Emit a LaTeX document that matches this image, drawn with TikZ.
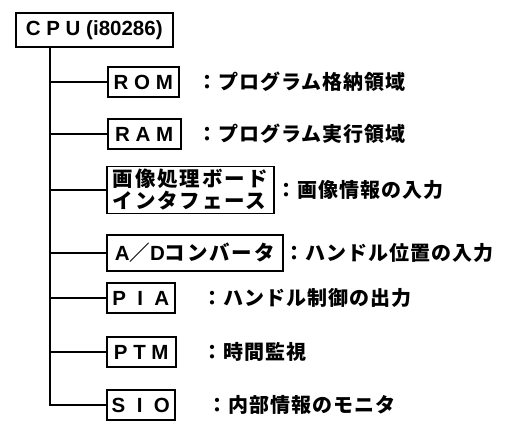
\documentclass[tikz,border=0pt]{standalone}
\usepackage{fontspec}
\setmainfont{Liberation Sans}
\newfontfamily\jp{Noto Sans CJK JP}[LetterSpace=9]
\newfontfamily\jpl{Noto Sans CJK JP}[LetterSpace=5]
\begin{document}
\begin{tikzpicture}[x=1pt,y=-1pt,
  box/.style={draw, line width=1.5pt, inner sep=0pt, minimum height=30pt,
    font=\fontsize{20.5}{23}\selectfont\bfseries, anchor=west},
  lab/.style={inner sep=0pt, anchor=west, font=\fontsize{20}{23}\selectfont\jpl\bfseries},
  conn/.style={line width=1.5pt}]
\path[use as bounding box] (0,0) rectangle (515,423);
\node[box, anchor=north west, minimum width=157pt, minimum height=34pt] (cpu) at (15,12) {C P U (i80286)};
\node[box, minimum width=71pt] (rom) at (107,82) {R O M};
\node[box, minimum width=73pt] (ram) at (107,134) {R A M};
\node[box, minimum width=167pt, minimum height=47pt, align=left] (img) at (106,190) {{\jp\bfseries 画像処理ボード}\\[-1pt]{\jp\bfseries インタフェース}};
\node[box, minimum width=176pt, minimum height=36pt] (ad) at (106,253) {A{\jp\bfseries ／}D{\jp\bfseries コンバータ}};
\node[box, minimum width=68pt] (pia) at (106,298) {P\ \ I\ \ A};
\node[box, minimum width=69pt] (ptm) at (106,352) {P T M};
\node[box, minimum width=68pt] (sio) at (106,405) {S\ \ I\ \ O};
\coordinate (top) at ([xshift=35pt]cpu.south west);
\draw[conn] (top) |- (sio.west);
\foreach \n in {rom,ram,img,ad,pia,ptm}{\draw[conn] (top |- \n.west) -- (\n.west);}
\node[lab] (lrom) at (197,82) {：プログラム格納領域};
\node[lab] (lram) at (197,134) {：プログラム実行領域};
\node[lab] (limg) at (276,190) {：画像情報の入力};
\node[lab] (lad) at (284,253) {：ハンドル位置の入力};
\node[lab] (lpia) at (202,298) {：ハンドル制御の出力};
\node[lab] (lptm) at (202,352) {：時間監視};
\node[lab] (lsio) at (207,405) {：内部情報のモニタ};
\end{tikzpicture}
\end{document}
